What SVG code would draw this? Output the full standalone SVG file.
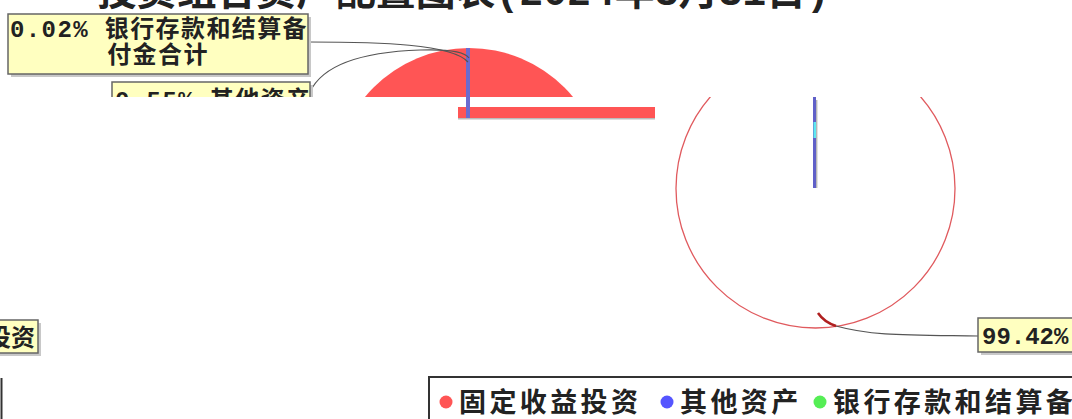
<svg xmlns="http://www.w3.org/2000/svg" width="1072" height="419" viewBox="0 0 1072 419">
<style>
.lbl{fill:#ffffc0;stroke:#666;stroke-width:1.5}
.shd{fill:#c8c8c8}
.mono{font-family:"Liberation Mono","Noto Sans CJK SC",monospace;font-weight:bold;fill:#222}
.leg{font-family:"Noto Sans CJK SC",sans-serif;font-weight:bold;font-size:27px;fill:#222}
.con{fill:none;stroke:#555;stroke-width:1.2}
</style>
<defs>
<clipPath id="topclip"><rect x="0" y="0" width="1072" height="97"/></clipPath>
<clipPath id="botclip"><rect x="0" y="97" width="1072" height="322"/></clipPath>
</defs>
<rect width="1072" height="419" fill="#fff"/>
<g id="title">
<text class="mono" x="97" y="5" font-size="40" textLength="733" lengthAdjust="spacingAndGlyphs">投资组合资产配置图表(2024年3月31日)</text>
</g>
<g id="pie-left">
<g clip-path="url(#topclip)">
<circle cx="469" cy="183" r="135" fill="#ff5555"/>
</g>
<rect x="458" y="107" width="197" height="11" fill="#ff5555"/>
<rect x="458" y="118" width="197" height="1.5" fill="#bbb"/>
<rect x="466" y="48" width="4" height="70" fill="#6b6bd0"/>
</g>
<g id="pie-right">
<g clip-path="url(#botclip)">
<circle cx="815.5" cy="188.5" r="139.5" fill="none" stroke="#e05a5e" stroke-width="1.3"/>
</g>
<rect x="813" y="97" width="3" height="91" fill="#6060c8"/>
<rect x="813.5" y="122" width="2.5" height="16" fill="#5ee8f0"/>
<line x1="816.8" y1="100" x2="816.8" y2="188" stroke="#999" stroke-width="1"/>
<path d="M818,313 Q824,322 836,326" fill="none" stroke="#b02020" stroke-width="2.5"/>
</g>
<g id="connectors">
<path class="con" d="M309,42 C380,42 452,44 468,62"/>
<g clip-path="url(#topclip)">
<path class="con" d="M310,92 C322,66 360,52 420,50 C450,49 465,52 469,58"/>
</g>
<path class="con" d="M836,326 C872,336 905,335 978,336"/>
</g>
<g id="label-bank">
<rect class="shd" x="11" y="17" width="300" height="60"/>
<rect class="lbl" x="8" y="14" width="300" height="60"/>
<text class="mono" x="10" y="37" font-size="24" letter-spacing="1.4">0.02% 银行存款和结算备</text>
<text class="mono" x="158" y="63" font-size="24" letter-spacing="1.4" text-anchor="middle">付金合计</text>
</g>
<g id="label-other" clip-path="url(#topclip)">
<rect class="shd" x="115" y="85" width="198" height="34"/>
<rect class="lbl" x="112" y="82" width="198" height="34"/>
<text class="mono" x="115" y="108" font-size="24" letter-spacing="1.4">0.55% 其他资产</text>
</g>
<g id="label-fixed">
<rect class="shd" x="-7" y="323" width="48" height="33"/>
<rect class="lbl" x="-10" y="320" width="48" height="33"/>
<text class="mono" x="35" y="346" font-size="24" text-anchor="end">投资</text>
</g>
<g id="label-main">
<rect class="shd" x="981" y="321" width="110" height="34"/>
<rect class="lbl" x="978" y="318" width="110" height="34"/>
<text class="mono" x="982" y="344" font-size="24">99.42%</text>
</g>
<line x1="1.5" y1="378" x2="1.5" y2="419" stroke="#333" stroke-width="2"/>
<g id="legend">
<rect x="429" y="377" width="700" height="60" fill="#fff" stroke="#333" stroke-width="2"/>
<circle cx="446" cy="402" r="6.5" fill="#ff5555"/>
<text class="leg" x="459" y="412" letter-spacing="3.4">固定收益投资</text>
<circle cx="667" cy="402" r="6.5" fill="#5555ff"/>
<text class="leg" x="680" y="412" letter-spacing="3.4">其他资产</text>
<circle cx="820" cy="402" r="6.5" fill="#55ee55"/>
<text class="leg" x="833" y="412" letter-spacing="3.4">银行存款和结算备</text>
</g>
</svg>
